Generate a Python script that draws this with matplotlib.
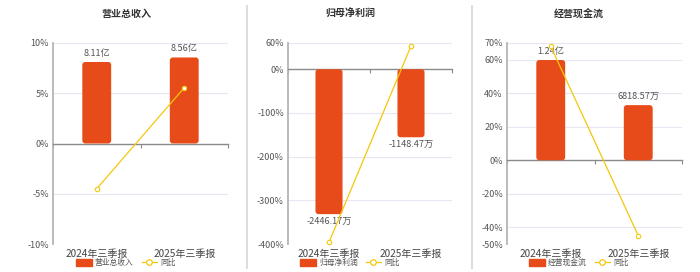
import matplotlib
matplotlib.use("Agg")
import matplotlib.pyplot as plt
from matplotlib.lines import Line2D
from matplotlib.patches import FancyBboxPatch, Rectangle

plt.rcParams['font.family'] = ['Noto Sans CJK SC', 'DejaVu Sans']

categories = ["2024年三季报", "2025年三季报"]

titles = ["营业总收入", "归母净利润", "经营现金流"]

# bar values (panel 1 in 亿, panels 2-3 in 万)
rev_vals = [8.11, 8.56]
np_vals = [-2446.17, -1148.47]
cf_vals = [12400.0, 6818.57]

rev_labels = ["8.11亿", "8.56亿"]
np_labels = ["-2446.17万", "-1148.47万"]
cf_labels = ["1.24亿", "6818.57万"]

# YoY (%)
rev_yoy = [-4.5, 5.55]
np_yoy = [-396.0, 53.05]
cf_yoy = [68.0, -45.0]

rev_ticks = [-10, -5, 0, 5, 10]
np_ticks = [-400, -300, -200, -100, 0, 60]
cf_ticks = [-50, -40, -20, 0, 20, 40, 60, 70]

panels = [
    dict(title=titles[0], bars=rev_vals, labels=rev_labels, yoy=rev_yoy,
         ticks=rev_ticks, ylim=(-10, 10), blim=(-10, 10),
         rect=(53, 43, 228, 244), center=126),
    dict(title=titles[1], bars=np_vals, labels=np_labels, yoy=np_yoy,
         ticks=np_ticks, ylim=(-400, 60), blim=(-2950, 442.5),
         rect=(288, 43, 452, 244), center=350),
    dict(title=titles[2], bars=cf_vals, labels=cf_labels, yoy=cf_yoy,
         ticks=cf_ticks, ylim=(-50, 70), blim=(-10360, 14505),
         rect=(507, 43, 682, 244), center=579),
]

W, H = 700, 272
fig = plt.figure(figsize=(W / 100, H / 100), dpi=100)

BAR_C = '#E84B1A'
LINE_C = '#F5C70A'
GRID_C = '#E6E7F2'
TXT_C = '#555555'
BAR_W = 0.33
R_PX = 3.0

for p in panels:
    x0, y0, x1, y1 = p['rect']
    pos = [x0 / W, 1 - y1 / H, (x1 - x0) / W, (y1 - y0) / H]
    ax = fig.add_axes(pos)
    ax.set_xlim(-0.5, 1.5)
    ax.set_ylim(*p['ylim'])
    ax.set_yticks(p['ticks'])
    ax.set_yticklabels([f"{t}%" for t in p['ticks']])
    ax.tick_params(axis='y', length=0, labelsize=6.5, labelcolor=TXT_C, pad=3)
    for t in p['ticks']:
        if t != 0:
            ax.axhline(t, color=GRID_C, lw=0.8, zorder=0)
    for s in ['top', 'right']:
        ax.spines[s].set_visible(False)
    ax.spines['left'].set_color('#B5B5B5')
    ax.spines['left'].set_linewidth(1.3)
    ax.spines['bottom'].set_position(('data', 0))
    ax.spines['bottom'].set_color('#8A8A8A')
    ax.spines['bottom'].set_linewidth(1.0)
    ax.set_xticks([-0.5, 0.5, 1.5])
    ax.tick_params(axis='x', length=3, width=0.8, color='#8A8A8A', labelbottom=False)
    for i, c in enumerate(categories):
        ax.text(i, -0.025, c, transform=ax.get_xaxis_transform(), ha='center', va='top',
                fontsize=7.2, color='#444444')

    # bars (rounded corners)
    axb = ax.twinx()
    axb.set_xlim(-0.5, 1.5)
    axb.set_ylim(*p['blim'])
    axb.set_axis_off()
    bars = axb.bar(range(len(categories)), p['bars'], width=BAR_W, color=BAR_C, zorder=2)
    w_px = x1 - x0
    h_px = y1 - y0
    x_per_px = 2.0 / w_px
    y_per_px = (p['blim'][1] - p['blim'][0]) / h_px
    for b in bars:
        b.set_visible(False)
        bx, by, bw, bh = b.get_x(), b.get_y(), b.get_width(), b.get_height()
        if bh < 0:
            by, bh = by + bh, -bh
        fp = FancyBboxPatch((bx, by), bw, bh,
                            boxstyle=f"round,pad=0,rounding_size={R_PX * x_per_px}",
                            mutation_aspect=y_per_px / x_per_px,
                            facecolor=BAR_C, edgecolor='none', zorder=2)
        axb.add_patch(fp)
    for b, lab, v in zip(bars, p['labels'], p['bars']):
        cx = b.get_x() + b.get_width() / 2
        if v >= 0:
            axb.annotate(lab, (cx, v), xytext=(0, 3), textcoords='offset points',
                         ha='center', va='bottom', fontsize=6.6, color=TXT_C)
        else:
            axb.annotate(lab, (cx, v), xytext=(0, -2), textcoords='offset points',
                         ha='center', va='top', fontsize=6.6, color=TXT_C)

    # line
    axl = ax.twinx()
    axl.set_xlim(-0.5, 1.5)
    axl.set_ylim(*p['ylim'])
    axl.set_axis_off()
    axl.plot(range(len(categories)), p['yoy'], color=LINE_C, lw=0.9, marker='o',
             markersize=3.2, mfc='white', mec=LINE_C, mew=0.8, clip_on=False, zorder=3)

    # title
    fig.text(p['center'] / W, 1 - 14 / H, p['title'], ha='center', va='center',
             fontsize=7.2, fontweight='bold', color='#333333')

    # legend
    ly = 1 - 263 / H
    legend_items = [Rectangle((0, 0), 1, 1, color=BAR_C),
                    Line2D([], [], color=LINE_C, lw=0.9, marker='o', markersize=4,
                           mfc='white', mec=LINE_C, mew=0.9)]
    fig.legend(legend_items, [p['title'], '同比'], loc='center',
               bbox_to_anchor=(p['center'] / W, ly), ncol=2, frameon=False, fontsize=5.6,
               handlelength=2.0, handleheight=1.0, handletextpad=0.4,
               columnspacing=1.0, labelcolor='#555555', borderpad=0)

for xs in [247, 472]:
    fig.add_artist(Line2D([xs / W, xs / W], [1 - 6 / H, 1 - 268 / H],
                          transform=fig.transFigure, color='#DDDDDD', lw=1.4))

fig.savefig('out.png', dpi=100)
